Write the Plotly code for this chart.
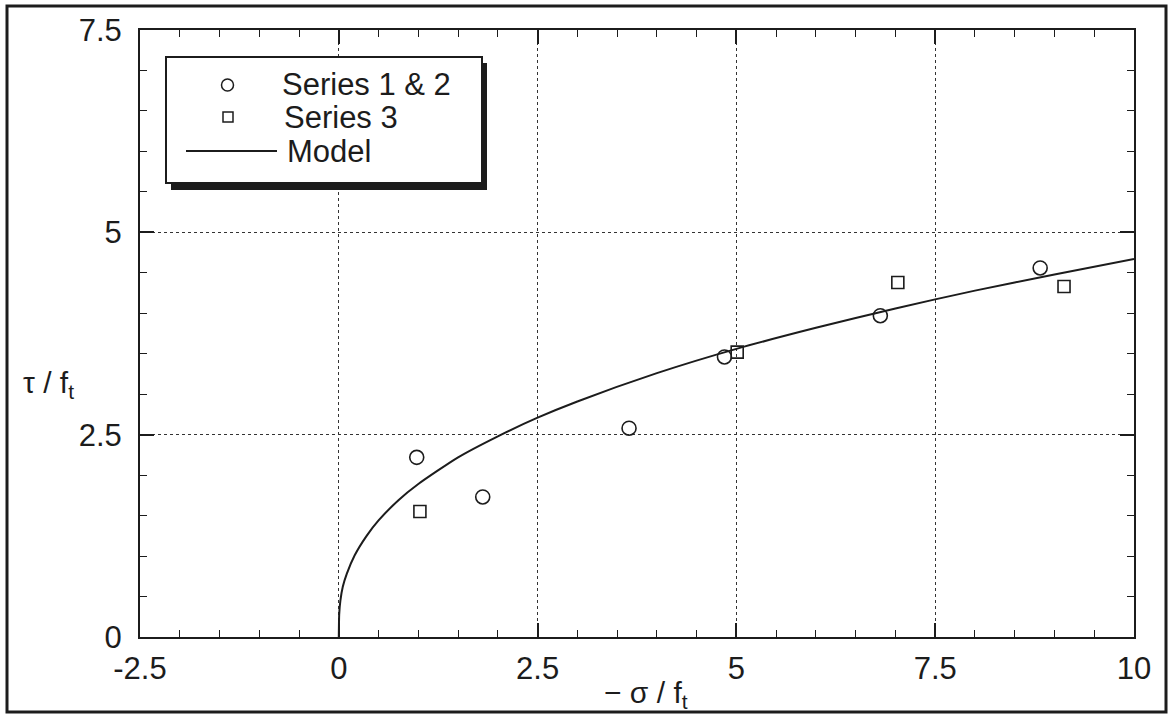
import plotly.graph_objects as go

# Measured points: normalised stress ratio -sigma/f_t vs shear ratio tau/f_t
s12_x = [0.98, 1.81, 3.65, 4.85, 6.81, 8.82]
s12_y = [2.22, 1.73, 2.58, 3.46, 3.97, 4.56]

s3_x = [1.02, 5.01, 7.03, 9.12]
s3_y = [1.55, 3.52, 4.38, 4.33]

# Model curve sampled along its length
model_x = [0.0, 0.005, 0.02, 0.05, 0.1, 0.2, 0.35, 0.5, 0.75, 1.0, 1.5, 2.0, 2.5,
           3.0, 4.0, 5.0, 6.0, 7.0, 8.0, 9.0, 10.0]
model_y = [0.0, 0.28, 0.45, 0.62, 0.78, 1.01, 1.25, 1.44, 1.69, 1.89, 2.22, 2.48, 2.71,
           2.91, 3.26, 3.56, 3.82, 4.06, 4.28, 4.48, 4.67]

x_ticks = [-2.5, 0, 2.5, 5, 7.5, 10]
y_ticks = [0, 2.5, 5, 7.5]

INK = "#1c1c1c"
FONT = "Liberation Sans, Arial, Helvetica, sans-serif"

W, H = 1170, 715
L, R, T, B = 140, 1134, 30, 637   # plot area in pixels


def px(xp):
    return (xp - L) / (R - L)


def py(yp):
    return (B - yp) / (B - T)


fig = go.Figure()

fig.add_trace(go.Scatter(
    x=model_x, y=model_y, mode="lines", line=dict(color=INK, width=2, shape="spline", smoothing=0.6),
    showlegend=False, hoverinfo="skip"))
fig.add_trace(go.Scatter(
    x=s12_x, y=s12_y, mode="markers",
    marker=dict(symbol="circle-open", size=14, color=INK, line=dict(width=1.6, color=INK)),
    showlegend=False))
fig.add_trace(go.Scatter(
    x=s3_x, y=s3_y, mode="markers",
    marker=dict(symbol="square-open", size=12, color=INK, line=dict(width=1.6, color=INK)),
    showlegend=False))

axis_common = dict(
    showline=True, linewidth=2, linecolor=INK, mirror="allticks",
    ticks="inside", ticklen=14, tickwidth=1.5, tickcolor=INK,
    showgrid=True, gridcolor="#333333", gridwidth=1.2, griddash="dot",
    zeroline=False,
    tickfont=dict(family=FONT, size=31, color=INK),
    minor=dict(ticks="inside", ticklen=7, tickwidth=1.2, tickcolor=INK, dtick=0.5, showgrid=False),
)

fig.update_xaxes(range=[-2.5, 10], tickvals=x_ticks, ticktext=[f"{v:g}" for v in x_ticks],
                 ticklabelstandoff=3, **axis_common)
fig.update_yaxes(range=[0, 7.5], tickvals=y_ticks, ticktext=[f"{v:g}" for v in y_ticks],
                 ticklabelstandoff=10, **axis_common)

shapes = []
# outer frame
shapes.append(dict(type="rect", xref="paper", yref="paper",
                   x0=px(7), x1=px(1166), y0=py(712), y1=py(6),
                   line=dict(color=INK, width=3), fillcolor="rgba(0,0,0,0)", layer="above"))
# legend box shadow and box
shapes.append(dict(type="rect", xref="paper", yref="paper",
                   x0=px(171), x1=px(487), y0=py(190), y1=py(63),
                   line=dict(width=0), fillcolor=INK, layer="above"))
shapes.append(dict(type="rect", xref="paper", yref="paper",
                   x0=px(166), x1=px(482), y0=py(183), y1=py(57),
                   line=dict(color=INK, width=2), fillcolor="white", layer="above"))
# legend symbols
shapes.append(dict(type="circle", xref="paper", yref="paper",
                   x0=px(221.5), x1=px(233.5), y0=py(91), y1=py(79),
                   line=dict(color=INK, width=1.5), layer="above"))
shapes.append(dict(type="rect", xref="paper", yref="paper",
                   x0=px(223), x1=px(233), y0=py(122), y1=py(112),
                   line=dict(color=INK, width=1.5), layer="above"))
shapes.append(dict(type="line", xref="paper", yref="paper",
                   x0=px(186), x1=px(277), y0=py(151), y1=py(151),
                   line=dict(color=INK, width=2), layer="above"))
fig.update_layout(shapes=shapes)

legend_font = dict(family=FONT, size=31, color=INK)
for label, xl, yl in [("Series 1 &amp; 2", 281, 84), ("Series 3", 283, 117.5), ("Model", 286, 151)]:
    fig.add_annotation(text=label, xref="paper", yref="paper", x=px(xl), y=py(yl),
                       xanchor="left", yanchor="middle", showarrow=False, font=legend_font,
                       borderpad=0)

title_font = dict(family=FONT, size=30, color=INK)
fig.add_annotation(text="τ / f<sub>t</sub>", xref="paper", yref="paper",
                   x=px(48), y=py(384), xanchor="center", yanchor="middle",
                   showarrow=False, font=title_font)
fig.add_annotation(text="− σ / f<sub>t</sub>", xref="paper", yref="paper",
                   x=px(646), y=py(694), xanchor="center", yanchor="middle",
                   showarrow=False, font=title_font)

fig.update_layout(
    width=W, height=H,
    margin=dict(l=L, r=W - R, t=T, b=H - B),
    paper_bgcolor="white", plot_bgcolor="white",
    showlegend=False,
)

fig.write_html("out.html")
